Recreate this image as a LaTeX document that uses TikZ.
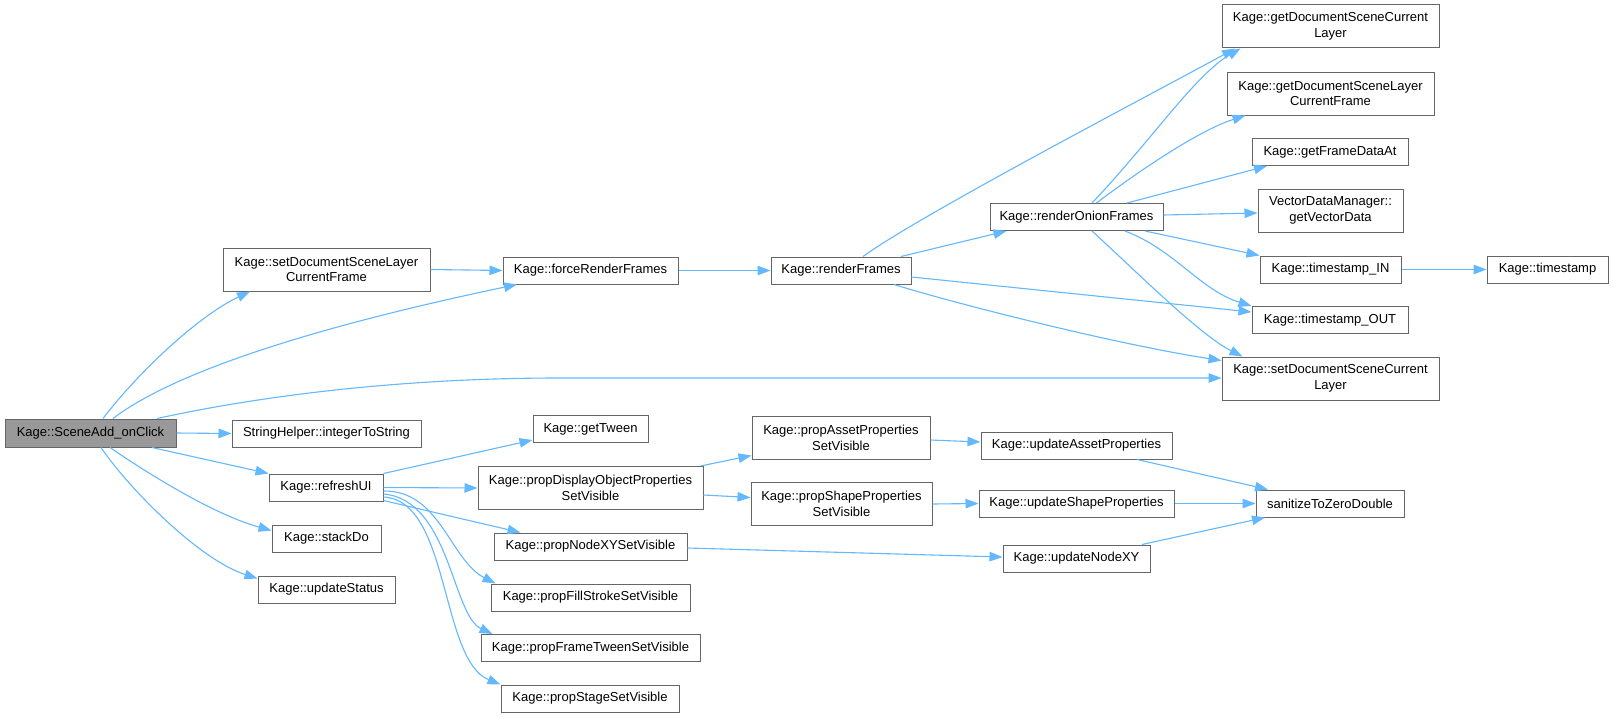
\documentclass[tikz,border=0pt]{standalone}
\usepackage{fontspec}
\setmainfont{Liberation Sans}
\usetikzlibrary{arrows.meta}
\definecolor{edgeblue}{HTML}{63B8FF}
\definecolor{boxgray}{HTML}{666666}
\definecolor{rootfill}{HTML}{999999}
\begin{document}
\begin{tikzpicture}[x=1pt,y=-1pt,
  box/.style={draw=boxgray, line width=1pt, fill=white, inner sep=0pt, align=center,
    font=\fontsize{13}{15.7}\selectfont},
  rootbox/.style={box, fill=rootfill},
  call/.style={draw=edgeblue, line width=1.1pt, -{Triangle[length=13pt,width=9.5pt]}}]
\useasboundingbox (0,0) rectangle (1613,717);
\fill[white] (0,0) rectangle (1613,717);

% nodes
\node[rootbox, minimum width=171pt, minimum height=28pt] (root) at (90.5,433) {Kage::SceneAdd\_onClick};
\node[box, minimum width=207pt, minimum height=43pt] (A) at (326.5,269.5) {Kage::setDocumentSceneLayer\\CurrentFrame};
\node[box, minimum width=175pt, minimum height=27pt] (FR) at (590.5,270.5) {Kage::forceRenderFrames};
\node[box, minimum width=140pt, minimum height=27pt] (RF) at (841,270.5) {Kage::renderFrames};
\node[box, minimum width=173pt, minimum height=27pt] (RO) at (1076.5,217) {Kage::renderOnionFrames};
\node[box, minimum width=217pt, minimum height=43pt] (getDSCL) at (1330.5,26.5) {Kage::getDocumentSceneCurrent\\Layer};
\node[box, minimum width=207pt, minimum height=43pt] (getDSLCF) at (1330.5,93.5) {Kage::getDocumentSceneLayer\\CurrentFrame};
\node[box, minimum width=156pt, minimum height=27pt] (GFD) at (1330,152) {Kage::getFrameDataAt};
\node[box, minimum width=145pt, minimum height=43pt] (VDM) at (1330.5,210.5) {VectorDataManager::\\getVectorData};
\node[box, minimum width=141pt, minimum height=27pt] (tsIN) at (1330.5,269.5) {Kage::timestamp\_IN};
\node[box, minimum width=121pt, minimum height=27pt] (ts) at (1547.5,269.5) {Kage::timestamp};
\node[box, minimum width=156pt, minimum height=27pt] (tsOUT) at (1330,320) {Kage::timestamp\_OUT};
\node[box, minimum width=217pt, minimum height=43pt] (setDSCL) at (1330.5,378.5) {Kage::setDocumentSceneCurrent\\Layer};
\node[box, minimum width=189pt, minimum height=27pt] (I2S) at (326.5,433.5) {StringHelper::integerToString};
\node[box, minimum width=114pt, minimum height=27pt] (RUI) at (326,487.5) {Kage::refreshUI};
\node[box, minimum width=109pt, minimum height=27pt] (SD) at (326.5,538.5) {Kage::stackDo};
\node[box, minimum width=137pt, minimum height=27pt] (US) at (326.5,589.5) {Kage::updateStatus};
\node[box, minimum width=115pt, minimum height=27pt] (GT) at (590.5,429) {Kage::getTween};
\node[box, minimum width=225pt, minimum height=43pt] (PDO) at (590.5,488) {Kage::propDisplayObjectProperties\\SetVisible};
\node[box, minimum width=193pt, minimum height=27pt] (PNXY) at (590.5,546.5) {Kage::propNodeXYSetVisible};
\node[box, minimum width=199pt, minimum height=27pt] (PFS) at (590.5,597.5) {Kage::propFillStrokeSetVisible};
\node[box, minimum width=219pt, minimum height=27pt] (PFT) at (590.5,648) {Kage::propFrameTweenSetVisible};
\node[box, minimum width=178pt, minimum height=27pt] (PSt) at (590,698.5) {Kage::propStageSetVisible};
\node[box, minimum width=178pt, minimum height=43pt] (PAP) at (841,437.5) {Kage::propAssetProperties\\SetVisible};
\node[box, minimum width=181pt, minimum height=43pt] (PSP) at (841.5,504) {Kage::propShapeProperties\\SetVisible};
\node[box, minimum width=191pt, minimum height=27pt] (UAP) at (1076.5,445.5) {Kage::updateAssetProperties};
\node[box, minimum width=195pt, minimum height=27pt] (USP) at (1076.5,503.5) {Kage::updateShapeProperties};
\node[box, minimum width=147pt, minimum height=27pt] (UNXY) at (1076.5,558.5) {Kage::updateNodeXY};
\node[box, minimum width=148pt, minimum height=27pt] (SAN) at (1330,503.5) {sanitizeToZeroDouble};

% edges from root
\draw[call] ([xshift=12.5pt]root.north) .. controls (140,370) and (200,315) .. ([xshift=-76.5pt]A.south);
\draw[call] ([xshift=22.5pt]root.north) .. controls (170,375) and (300,330) .. ([xshift=-73.5pt]FR.south);
\draw[call] ([xshift=66.5pt]root.north) .. controls (260,396) and (400,378) .. (560,378) -- ([yshift=0.5pt]setDSCL.west);
\draw[call] (root.east) -- (I2S.west);
\draw[call] ([xshift=61.5pt]root.south) -- (RUI.north west);
\draw[call] ([xshift=19.5pt]root.south) .. controls (150,475) and (215,515) .. ([yshift=8pt]SD.west);
\draw[call] ([xshift=10.5pt]root.south) .. controls (130,490) and (200,560) .. ([yshift=11pt]US.west);

% upper chain
\draw[call] (A.east) -- (FR.west);
\draw[call] (FR.east) -- (RF.west);
\draw[call] ([xshift=22pt]RF.north) .. controls (920,215) and (1150,95) .. ([xshift=-95.5pt]getDSCL.south);
\draw[call] ([xshift=60pt]RF.north) -- ([xshift=-70pt]RO.south);
\draw[call] ([yshift=-6.5pt]RF.east) -- ([yshift=8pt]tsOUT.west);
\draw[call] ([xshift=53pt]RF.south) .. controls (960,305) and (1120,345) .. ([yshift=-4pt]setDSCL.north west);

\draw[call] ([xshift=15.5pt]RO.north) .. controls (1150,142) and (1195,75) .. ([xshift=-90pt]getDSCL.south);
\draw[call] ([xshift=20pt]RO.north) .. controls (1140,170) and (1200,130) .. ([xshift=-85pt]getDSLCF.south);
\draw[call] ([xshift=50.5pt]RO.north) -- ([xshift=-63pt]GFD.south);
\draw[call] ([yshift=2pt]RO.east) -- ([yshift=-2.5pt]VDM.west);
\draw[call] ([xshift=68.5pt]RO.south) -- (tsIN.north west);
\draw[call] ([xshift=48.5pt]RO.south) .. controls (1175,250) and (1200,290) .. (tsOUT.north west);
\draw[call] ([xshift=15.5pt]RO.south) .. controls (1140,275) and (1200,335) .. ([xshift=-88pt]setDSCL.north);
\draw[call] (tsIN.east) -- (ts.west);

% refreshUI branch
\draw[call] (RUI.north east) -- ([yshift=3pt]GT.south west);
\draw[call] (RUI.east) -- (PDO.west);
\draw[call] ([yshift=1pt]RUI.south east) -- ([xshift=-70pt]PNXY.north);
\draw[call] ([yshift=-3.5pt]RUI.east) .. controls (440,490) and (450,560) .. ([xshift=5pt]PFS.north west);
\draw[call] ([yshift=-6.5pt]RUI.east) .. controls (450,500) and (452,615) .. ([xshift=12pt]PFT.north west);
\draw[call] ([yshift=-9.5pt]RUI.east) .. controls (450,500) and (440,660) .. (PSt.north west);

\draw[call] ([xshift=-3pt]PDO.north east) -- ([yshift=-18pt]PAP.west);
\draw[call] ([yshift=-7pt]PDO.east) -- ([yshift=6.5pt]PSP.west);
\draw[call] ([yshift=-2.5pt]PAP.east) -- ([yshift=3.5pt]UAP.west);
\draw[call] (PSP.east) -- (USP.west);
\draw[call] ([yshift=-1.5pt]PNXY.east) -- ([yshift=1.5pt]UNXY.west);
\draw[call] ([xshift=60.5pt]UAP.south) -- ([xshift=-62pt]SAN.north);
\draw[call] (USP.east) -- (SAN.west);
\draw[call] ([xshift=65.5pt]UNXY.north) -- ([xshift=-65pt]SAN.south);
\end{tikzpicture}
\end{document}
